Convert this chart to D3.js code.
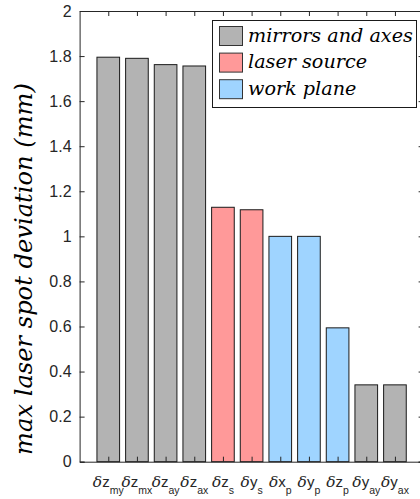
<!DOCTYPE html>
<html>
<head>
<meta charset="utf-8">
<script src="https://cdn.jsdelivr.net/npm/d3@7"></script>
<style>
  body { margin: 0; background: #fff; }
  svg { display: block; }
  .serif { font-family: "DejaVu Serif", "Liberation Serif", serif; font-style: italic; }
  .sans { font-family: "Liberation Sans", Arial, sans-serif; }
</style>
</head>
<body>
<script>
// bar labels: delta + variable + subscript
let labelVars = ["z", "z", "z", "z", "z", "y", "x", "y", "z", "y", "y"];
let labelSubs = ["my", "mx", "ay", "ax", "s", "s", "p", "p", "p", "ay", "ax"];
let values = [1.795, 1.790, 1.762, 1.756, 1.129, 1.118, 1.0, 1.0, 0.594, 0.341, 0.341];
let groups = ["mirrors and axes", "mirrors and axes", "mirrors and axes", "mirrors and axes",
    "laser source", "laser source", "work plane", "work plane", "work plane",
    "mirrors and axes", "mirrors and axes"];
let groupNames = ["mirrors and axes", "laser source", "work plane"];
let groupColors = ["#b3b3b3", "#ff9999", "#9fd4ff"];
let yTicks = [0, 0.2, 0.4, 0.6, 0.8, 1, 1.2, 1.4, 1.6, 1.8, 2];
let yLabel = "max laser spot deviation (mm)";

let width = 420, height = 499;
let axisColor = "#262626";

let svg = d3.select("body").append("svg")
    .attr("width", width)
    .attr("height", height);

// x goes 0..12 so bars sit at 1..11; right edge of the box falls off the page
let x = d3.scaleLinear().domain([0, values.length + 1]).range([79.6, 423.6]);
let y = d3.scaleLinear().domain([0, 2]).range([461.7, 11]);
let color = d3.scaleOrdinal().domain(groupNames).range(groupColors);
let idx = d3.range(1, values.length + 1);
let barW = x(0.79) - x(0);

/* ------- BARS -------*/
svg.append("g").attr("class", "bars")
    .selectAll("rect")
    .data(values)
    .join("rect")
    .attr("x", (d, i) => x(i + 1) - barW / 2)
    .attr("y", d => y(d))
    .attr("width", barW)
    .attr("height", d => y(0) - y(d))
    .attr("fill", (d, i) => color(groups[i]))
    .attr("stroke", "#1a1a1a")
    .attr("stroke-width", 1);

/* ------- AXES -------*/
function styleAxis(g){
    g.select(".domain").attr("stroke", axisColor);
    g.selectAll(".tick line").attr("stroke", axisColor);
    g.selectAll(".tick text").attr("fill", axisColor);
}

svg.append("g")
    .attr("transform", "translate(" + x(0) + ",0)")
    .call(d3.axisLeft(y).tickValues(yTicks).tickSize(-5).tickPadding(8)
        .tickFormat(d => d3.format("~g")(d)))
    .call(styleAxis)
    .call(g => g.attr("font-family", null).attr("font-size", null).attr("class", "sans")
        .selectAll(".tick text").attr("font-size", 16));

svg.append("g")
    .attr("transform", "translate(" + x(values.length + 1) + ",0)")
    .call(d3.axisRight(y).tickValues(yTicks).tickSize(-5).tickFormat(""))
    .call(styleAxis);

svg.append("g")
    .attr("transform", "translate(0," + y(2) + ")")
    .call(d3.axisTop(x).tickValues(idx).tickSize(-5).tickSizeOuter(0).tickFormat(""))
    .call(styleAxis);

svg.append("g")
    .attr("transform", "translate(0," + y(0) + ")")
    .call(d3.axisBottom(x).tickValues(idx).tickSize(-5).tickSizeOuter(0).tickFormat(""))
    .call(styleAxis);

/* ------- CATEGORY LABELS -------*/
let lab = svg.append("g").attr("class", "xlabels")
    .selectAll("text")
    .data(idx)
    .join("text")
    .attr("x", d => x(d))
    .attr("y", 487)
    .attr("text-anchor", "middle")
    .attr("fill", axisColor);
lab.append("tspan")
    .attr("class", "serif").attr("font-size", 15.5)
    .text("\u03b4");
lab.append("tspan")
    .attr("class", "sans").attr("font-size", 15)
    .text((d, i) => labelVars[i]);
lab.append("tspan")
    .attr("class", "sans").attr("font-size", 10.5).attr("dy", 7)
    .text((d, i) => labelSubs[i]);

/* ------- Y LABEL -------*/
let yl = svg.append("text")
    .attr("class", "serif")
    .attr("transform", "translate(32,269) rotate(-90)")
    .attr("text-anchor", "middle")
    .attr("font-size", 24)
    .attr("fill", "#000")
    .text(yLabel);
let ylw = yl.node().getComputedTextLength();
yl.attr("font-size", 24 * 372 / ylw);

/* ------- LEGEND -------*/
let legend = svg.append("g").attr("class", "legend");
legend.append("rect")
    .attr("x", 212.5).attr("y", 20.5)
    .attr("width", 204).attr("height", 87)
    .attr("fill", "#fff").attr("stroke", "#1a1a1a").attr("stroke-width", 1);

let item = legend.selectAll("g.item")
    .data(groupNames)
    .join("g")
    .attr("class", "item")
    .attr("transform", (d, i) => "translate(219," + (26 + i * 26.6) + ")");
item.append("rect")
    .attr("x", 0.5).attr("y", 0.5)
    .attr("width", 23).attr("height", 19)
    .attr("fill", d => color(d))
    .attr("stroke", "#333").attr("stroke-width", 1);
let itemText = item.append("text")
    .attr("class", "serif")
    .attr("x", 29).attr("y", 15.5)
    .attr("font-size", 22)
    .attr("fill", "#000")
    .text(d => d);
let lw = itemText.filter((d, i) => i === 0).node().getComputedTextLength();
itemText.attr("font-size", 22 * 165 / lw);
</script>
</body>
</html>
